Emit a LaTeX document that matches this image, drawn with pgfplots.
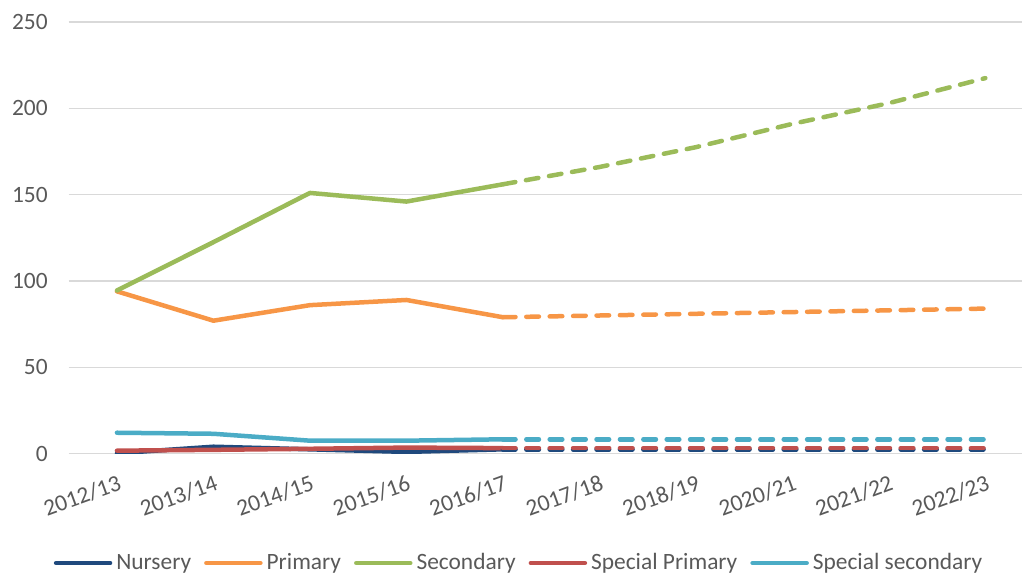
\documentclass[border=0pt]{standalone}
\usepackage{pgfplots}
\pgfplotsset{compat=1.18}
\usepackage{fontspec}
\setmainfont{Carlito}

\definecolor{nurs}{HTML}{1F497D}
\definecolor{prim}{HTML}{F79646}
\definecolor{seco}{HTML}{9BBB59}
\definecolor{sppr}{HTML}{C0504D}
\definecolor{spse}{HTML}{4BACC6}
\definecolor{txt}{HTML}{595959}
\definecolor{grd}{HTML}{D9D9D9}

\begin{document}
\begin{tikzpicture}
\begin{axis}[
  scale only axis,
  width=476.6pt, height=215.8pt,
  xmin=-0.5, xmax=9.38,
  ymin=0, ymax=250,
  ytick={0,50,100,150,200,250},
  xtick={0,...,9},
  xticklabels={2012/13,2013/14,2014/15,2015/16,2016/17,2017/18,2018/19,2020/21,2021/22,2022/23},
  axis line style={draw=none},
  major tick length=0pt,
  ymajorgrids,
  grid style={grd, line width=0.8pt},
  tick label style={font=\fontsize{11.7}{14}\selectfont, text=txt},
  /pgf/number format/assume math mode=true,
  yticklabel style={xshift=-7pt},
  xticklabel style={rotate=20, anchor=north east, yshift=-6pt, xshift=0pt},
  every axis plot/.append style={line width=2.25pt, line join=round, line cap=round},
  legend columns=5,
  legend style={draw=none, fill=none, at={(rel axis cs:0.4734,-0.2535)}, anchor=center,
    font=\fontsize{11.7}{14}\selectfont, text=txt,
    /tikz/every even column/.append style={column sep=4.5pt},
    inner sep=0pt},
  legend image code/.code={\draw[#1, line cap=round] (0pt,0pt) -- (27pt,0pt);},
]
% actual values
\addplot[nurs] coordinates {(0,0.2) (1,4) (2,2.5) (3,1) (4,2.5)};
\addlegendentry{Nursery}
\addplot[prim] coordinates {(0,94) (1,77) (2,86) (3,89) (4,79)};
\addlegendentry{Primary}
\addplot[seco] coordinates {(0,94.5) (1,122.5) (2,151) (3,146) (4,156)};
\addlegendentry{Secondary}
\addplot[sppr] coordinates {(0,1.7) (1,2.2) (2,2.8) (3,3.5) (4,3.2)};
\addlegendentry{Special Primary}
\addplot[spse] coordinates {(0,12.1) (1,11.5) (2,7.5) (3,7.5) (4,8.3)};
\addlegendentry{Special secondary}

% projections
\addplot[nurs, forget plot, dash pattern=on 6.3pt off 5.4pt] coordinates {(4,2.5) (5,2.5) (6,2.5) (7,2.5) (8,2.5) (9,2.5)};
\addplot[prim, forget plot, dash pattern=on 6.3pt off 5.4pt] coordinates {(4,79) (5,80) (6,81) (7,82) (8,83) (9,84)};
\addplot[seco, forget plot, dash pattern=on 6.3pt off 5.4pt] coordinates {(4,156) (5,166) (6,177.5) (7,191) (8,203) (9,217.5)};
\addplot[sppr, forget plot, dash pattern=on 6.3pt off 5.4pt] coordinates {(4,3.2) (5,3.2) (6,3.2) (7,3.2) (8,3.2) (9,3.2)};
\addplot[spse, forget plot, dash pattern=on 6.3pt off 5.4pt] coordinates {(4,8.3) (5,8.3) (6,8.3) (7,8.3) (8,8.3) (9,8.3)};

\coordinate (bbl) at (rel axis cs:-0.0721,-0.2813);
\coordinate (btr) at (rel axis cs:1,1.051);
\end{axis}
\pgfresetboundingbox
\path[use as bounding box] (bbl) rectangle (btr);
\end{tikzpicture}
\end{document}
